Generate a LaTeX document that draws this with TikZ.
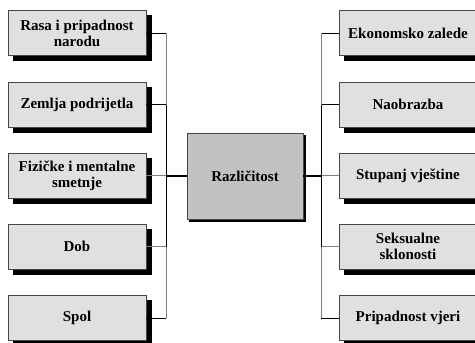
\documentclass[tikz,border=0pt]{standalone}
\usepackage{fontspec}
\setmainfont{Liberation Serif}
\definecolor{boxfill}{RGB}{224,224,224}
\definecolor{midfill}{RGB}{194,194,194}
\definecolor{lgray}{RGB}{128,128,128}
\definecolor{edgegray}{RGB}{70,70,70}
\begin{document}
\begin{tikzpicture}[x=1bp,y=1bp,
  outerbox/.style={draw=edgegray,line width=0.8bp,fill=boxfill,minimum width=138bp,minimum height=45bp,
    inner sep=0pt,align=center,font=\fontsize{15bp}{16bp}\selectfont\bfseries},
  midbox/.style={draw=edgegray,line width=0.8bp,fill=midfill,minimum width=116bp,minimum height=86bp,
    inner sep=0pt,align=center,font=\fontsize{15bp}{16bp}\selectfont\bfseries},
  outershadow/.style={draw=black,line width=5bp,line join=miter,line cap=butt},
  midshadow/.style={draw=black,line width=2bp,line join=miter,line cap=butt},
  blk/.style={draw=black,line width=1bp},
  gry/.style={draw=lgray,line width=1bp},
  thick connector/.style={draw=black,line width=2bp}]
\useasboundingbox (0,0) rectangle (475,342);
% left boxes
\node[outerbox] (l1) at (77,309) {Rasa i pripadnost\\narodu};
\node[outerbox] (l2) at (77,237.5) {Zemlja podrijetla};
\node[outerbox] (l3) at (77,166.5) {Fizičke i mentalne\\smetnje};
\node[outerbox] (l4) at (77,95.5) {Dob};
\node[outerbox] (l5) at (77,24) {Spol};
% right boxes
\node[outerbox] (r1) at (408,309) {Ekonomsko zalede};
\node[outerbox] (r2) at (408,237.5) {Naobrazba};
\node[outerbox] (r3) at (408,166.5) {Stupanj vještine};
\node[outerbox] (r4) at (408,95.5) {Seksualne\\sklonosti};
\node[outerbox] (r5) at (408,24) {Pripadnost vjeri};
% centre
\node[midbox] (c) at (245,166) {Različitost};
% shadows
\foreach \n in {l1,l2,l3,l4,l5,r1,r2,r3,r4,r5}
  \draw[outershadow] ([xshift=2.9,yshift=-5]\n.north east) -- ([xshift=2.9,yshift=-2.9]\n.south east) -- ([xshift=5,yshift=-2.9]\n.south west);
\draw[midshadow] ([xshift=1.4,yshift=-2]c.north east) -- ([xshift=1.4,yshift=-1.4]c.south east) -- ([xshift=2,yshift=-1.4]c.south west);
% trunk coordinates
\coordinate (tl) at (166,0);
\coordinate (tr) at (321,0);
% left connectors
\draw[blk] (l1.east) -- (l1.east -| tl);
\draw[blk] (l2.east) -- (l2.east -| tl);
\draw[gry] (l3.east) -- (l3.east -| tl);
\draw[gry] (l4.east) -- (l4.east -| tl);
\draw[blk] (l5.east) -- (l5.east -| tl);
\draw[gry] (l1.east -| tl) -- (l2.east -| tl);
\draw[blk] (l2.east -| tl) -- (l4.east -| tl);
\draw[gry] (l4.east -| tl) -- (l5.east -| tl);
\draw[thick connector] (c.west -| tl) -- (c.west);
% right connectors
\draw[blk] (r1.west) -- (r1.west -| tr);
\draw[blk] (r2.west) -- (r2.west -| tr);
\draw[gry] (r3.west) -- (r3.west -| tr);
\draw[gry] (r4.west) -- (r4.west -| tr);
\draw[blk] (r5.west) -- (r5.west -| tr);
\draw[gry] (r1.west -| tr) -- (r2.west -| tr);
\draw[blk] (r2.west -| tr) -- (r4.west -| tr);
\draw[gry] (r4.west -| tr) -- (r5.west -| tr);
\draw[thick connector] (c.east) -- (c.east -| tr);
\end{tikzpicture}
\end{document}
